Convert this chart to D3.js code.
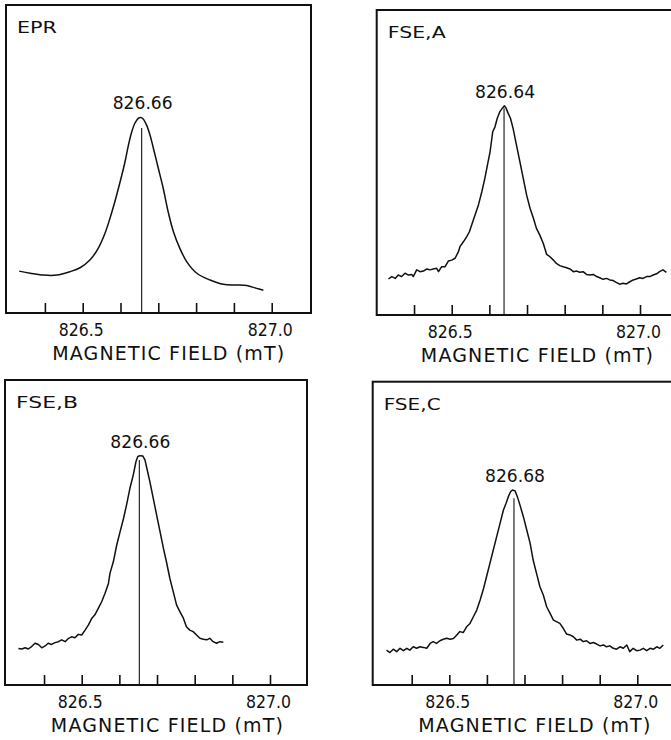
<!DOCTYPE html>
<html lang="en">
<head>
<meta charset="UTF-8">
<title>Magnetic field spectra</title>
<script src="https://cdn.jsdelivr.net/npm/d3@7"></script>
<style>
    body { margin: 0; background: #fff; }
    svg text { font-family: "DejaVu Sans", sans-serif; fill: #111; }
    .frame { fill: none; stroke: #111; stroke-width: 2px; }
    .trace { fill: none; stroke: #111; stroke-width: 1.5px; stroke-linejoin: round; }
    .peak { stroke: #111; stroke-width: 1.1px; }
    .tick line { stroke-width: 1.6px; }
</style>
</head>
<body>
<div id="chart"></div>
<script>

    /* global d3 */

    var panelNames = ["EPR", "FSE,A", "FSE,B", "FSE,C"];
    var peakLabels = ["826.66", "826.64", "826.66", "826.68"];
    var peakFields = [826.656, 826.639, 826.653, 826.672];
    var peakLineTops = [60.1, 67.8, 73.8, 61.6];
    var tickValues = [826.4, 826.5, 826.6, 826.7, 826.8, 826.9, 827.0];
    var labelledTicks = [826.5, 827.0];
    var axisTitle = "MAGNETIC FIELD (mT)";

    // [field (mT), signal (arb. units, 0 = frame bottom, 100 = frame top)]
    var eprTrace = [
        [826.332, 13.6], [826.361, 12.9], [826.396, 12.3], [826.431, 12.3], [826.466, 13.4],
        [826.493, 14.7], [826.519, 17.2], [826.541, 21.0], [826.559, 25.9], [826.572, 30.7],
        [826.585, 36.1], [826.599, 42.6], [826.612, 49.1], [826.621, 54.5], [826.630, 58.9],
        [826.638, 61.6], [826.647, 63.2], [826.653, 63.5], [826.660, 63.0], [826.669, 61.0],
        [826.678, 57.8], [826.687, 53.5], [826.700, 47.0], [826.713, 40.5], [826.726, 32.9],
        [826.740, 26.4], [826.757, 21.0], [826.775, 16.7], [826.802, 12.9], [826.837, 10.7],
        [826.872, 9.3], [826.907, 9.1], [826.934, 8.9], [826.960, 8.0], [826.978, 7.4]
    ];

    var fseATrace = [
        [826.332, 11.8], [826.341, 12.6], [826.350, 12.0], [826.358, 13.1], [826.367, 12.6],
        [826.376, 13.7], [826.385, 13.1], [826.394, 13.3], [826.398, 12.6], [826.407, 14.8],
        [826.416, 14.2], [826.425, 14.4], [826.434, 15.1], [826.442, 14.8], [826.451, 15.1],
        [826.460, 15.3], [826.465, 14.2], [826.473, 15.8], [826.482, 15.8], [826.491, 17.7],
        [826.500, 18.0], [826.509, 18.6], [826.518, 20.8], [826.522, 22.4], [826.531, 24.0],
        [826.540, 25.7], [826.547, 27.3], [826.553, 29.5], [826.562, 32.8], [826.571, 36.1],
        [826.580, 40.4], [826.588, 44.8], [826.595, 49.2], [826.602, 53.6], [826.609, 60.1],
        [826.615, 61.7], [826.621, 64.5], [826.628, 66.7], [826.635, 67.9], [826.640, 68.6],
        [826.644, 67.9], [826.650, 66.1], [826.656, 64.5], [826.663, 61.2], [826.672, 55.7],
        [826.681, 50.3], [826.690, 44.8], [826.699, 39.3], [826.708, 35.0], [826.717, 31.7],
        [826.725, 28.4], [826.734, 26.2], [826.743, 23.5], [826.752, 19.9], [826.761, 19.1],
        [826.770, 18.0], [826.778, 16.9], [826.787, 16.2], [826.796, 15.8], [826.805, 15.5],
        [826.814, 15.1], [826.823, 14.2], [826.832, 14.4], [826.840, 14.0], [826.849, 14.2],
        [826.858, 13.3], [826.867, 13.1], [826.876, 13.3], [826.885, 12.6], [826.893, 12.2],
        [826.902, 11.7], [826.911, 12.0], [826.920, 11.5], [826.929, 11.3], [826.937, 10.7],
        [826.946, 10.1], [826.955, 10.4], [826.964, 10.2], [826.973, 10.9], [826.982, 11.5],
        [826.990, 11.8], [826.999, 12.2], [827.008, 12.0], [827.017, 12.6], [827.026, 12.6],
        [827.035, 13.1], [827.044, 13.5], [827.052, 14.2], [827.061, 14.8], [827.070, 14.0]
    ];

    var fseBTrace = [
        [826.332, 12.0], [826.341, 11.8], [826.350, 12.2], [826.358, 11.8], [826.367, 12.6],
        [826.376, 13.7], [826.385, 13.3], [826.394, 12.2], [826.403, 12.8], [826.411, 13.7],
        [826.420, 13.3], [826.429, 13.9], [826.438, 14.2], [826.447, 14.8], [826.456, 14.2],
        [826.465, 15.3], [826.473, 15.8], [826.482, 15.5], [826.491, 16.6], [826.500, 16.4],
        [826.509, 18.0], [826.518, 19.7], [826.527, 21.9], [826.535, 23.0], [826.544, 25.1],
        [826.553, 27.3], [826.562, 30.1], [826.571, 33.3], [826.575, 36.6], [826.584, 40.4],
        [826.593, 45.9], [826.602, 50.3], [826.611, 54.6], [826.619, 59.0], [826.628, 64.5],
        [826.637, 68.9], [826.644, 73.2], [826.649, 74.9], [826.655, 75.2], [826.662, 75.1],
        [826.668, 73.8], [826.674, 70.5], [826.681, 66.7], [826.690, 61.2], [826.699, 55.7],
        [826.708, 50.3], [826.717, 44.8], [826.725, 40.4], [826.734, 35.0], [826.743, 30.6],
        [826.752, 26.2], [826.761, 24.0], [826.770, 21.9], [826.778, 19.1], [826.787, 18.0],
        [826.796, 17.5], [826.805, 16.4], [826.814, 15.3], [826.823, 15.0], [826.832, 14.8],
        [826.840, 15.3], [826.849, 14.2], [826.858, 13.7], [826.867, 14.2], [826.876, 14.0]
    ];

    var fseCTrace = [
        [826.333, 11.5], [826.342, 10.7], [826.351, 11.8], [826.360, 11.0], [826.369, 12.1],
        [826.378, 11.3], [826.387, 12.1], [826.395, 11.5], [826.404, 12.6], [826.413, 12.1],
        [826.422, 12.6], [826.431, 12.4], [826.440, 12.1], [826.449, 13.7], [826.457, 14.3],
        [826.466, 13.7], [826.475, 14.6], [826.484, 15.1], [826.493, 15.4], [826.502, 15.1],
        [826.511, 15.3], [826.520, 16.5], [826.528, 17.6], [826.537, 17.3], [826.546, 19.2],
        [826.555, 20.3], [826.564, 22.5], [826.573, 24.7], [826.582, 28.0], [826.590, 31.3],
        [826.599, 35.7], [826.608, 40.1], [826.617, 44.5], [826.626, 48.9], [826.635, 53.3],
        [826.644, 57.7], [826.651, 59.9], [826.657, 62.1], [826.663, 63.7], [826.668, 64.3],
        [826.675, 64.0], [826.681, 62.1], [826.688, 59.3], [826.697, 55.5], [826.706, 51.1],
        [826.715, 46.7], [826.723, 41.2], [826.732, 36.8], [826.741, 32.4], [826.750, 29.7],
        [826.759, 25.8], [826.768, 23.6], [826.777, 21.4], [826.785, 20.9], [826.794, 20.3],
        [826.803, 18.7], [826.812, 16.8], [826.821, 16.5], [826.830, 15.9], [826.839, 14.8],
        [826.848, 15.1], [826.856, 14.3], [826.865, 14.6], [826.874, 13.7], [826.883, 14.0],
        [826.892, 13.5], [826.901, 12.9], [826.910, 13.2], [826.918, 12.6], [826.927, 12.9],
        [826.936, 12.1], [826.945, 11.8], [826.954, 12.6], [826.963, 12.1], [826.972, 13.2],
        [826.980, 11.0], [826.989, 12.1], [826.998, 11.3], [827.007, 11.5], [827.016, 12.1],
        [827.025, 11.3], [827.034, 12.1], [827.043, 11.8], [827.052, 12.6], [827.060, 12.1],
        [827.069, 13.2]
    ];

    var traces = [eprTrace, fseATrace, fseBTrace, fseCTrace];

    // frame geometry in px; at5 / at0 = where 826.5 and 827.0 fall
    var frames = [
        {left: 6, top: 5, right: 311, bottom: 313, at5: 82.7, at0: 271.7, nameLen: 40},
        {left: 376.7, top: 10, right: 690, bottom: 315, at5: 451.7, at0: 640, nameLen: 58},
        {left: 5, top: 380, right: 307, bottom: 685, at5: 81.7, at0: 270, nameLen: 62},
        {left: 372.7, top: 381.7, right: 690, bottom: 685, at5: 449.3, at0: 637.3, nameLen: 57}
    ];

    var svg = d3.select("#chart").append("svg")
        .attr("width", 671)
        .attr("height", 740);

    var fmt = d3.format(".1f");

    panelNames.forEach(function (name, i) {
        var f = frames[i];
        var x = d3.scaleLinear().domain([826.5, 827.0]).range([f.at5, f.at0]);
        var y = d3.scaleLinear().domain([0, 100]).range([f.bottom, f.top]);

        var g = svg.append("g");

        g.append("rect")
            .attr("class", "frame")
            .attr("x", f.left)
            .attr("y", f.top)
            .attr("width", f.right - f.left)
            .attr("height", f.bottom - f.top);

        var axis = d3.axisBottom(x)
            .tickValues(tickValues)
            .tickSizeInner(-10)
            .tickSizeOuter(0)
            .tickPadding(10)
            .tickFormat(function (d) {
                var hit = labelledTicks.some(function (t) { return Math.abs(t - d) < 1e-6; });
                return hit ? fmt(d) : "";
            });

        var ax = g.append("g")
            .attr("transform", "translate(0," + f.bottom + ")")
            .call(axis)
            .attr("color", "#111")
            .attr("font-size", 18);
        ax.select(".domain").remove();
        ax.selectAll("text")
            .filter(function () { return this.textContent !== ""; })
            .attr("dx", -2)
            .attr("textLength", 45)
            .attr("lengthAdjust", "spacingAndGlyphs");

        g.append("path")
            .datum(traces[i])
            .attr("class", "trace")
            .attr("d", d3.line()
                .x(function (d) { return x(d[0]); })
                .y(function (d) { return y(d[1]); })
                .curve(i === 0 ? d3.curveCatmullRom : d3.curveLinear));

        g.append("line")
            .attr("class", "peak")
            .attr("x1", x(peakFields[i]))
            .attr("x2", x(peakFields[i]))
            .attr("y1", y(0))
            .attr("y2", y(peakLineTops[i]));

        var top = d3.max(traces[i], function (d) { return d[1]; });
        g.append("text")
            .attr("x", x(peakFields[i]) + 1)
            .attr("y", y(top) - 8)
            .attr("text-anchor", "middle")
            .attr("font-size", 18)
            .attr("textLength", 60)
            .attr("lengthAdjust", "spacingAndGlyphs")
            .text(peakLabels[i]);

        g.append("text")
            .attr("x", f.left + 11)
            .attr("y", f.top + 28)
            .attr("font-size", 16.5)
            .attr("textLength", f.nameLen)
            .attr("lengthAdjust", "spacingAndGlyphs")
            .text(name);

        g.append("text")
            .attr("x", (f.at5 + f.at0) / 2 - 9)
            .attr("y", f.bottom + 47)
            .attr("text-anchor", "middle")
            .attr("font-size", 19)
            .attr("textLength", 232)
            .attr("lengthAdjust", "spacing")
            .text(axisTitle);
    });

</script>
</body>
</html>
